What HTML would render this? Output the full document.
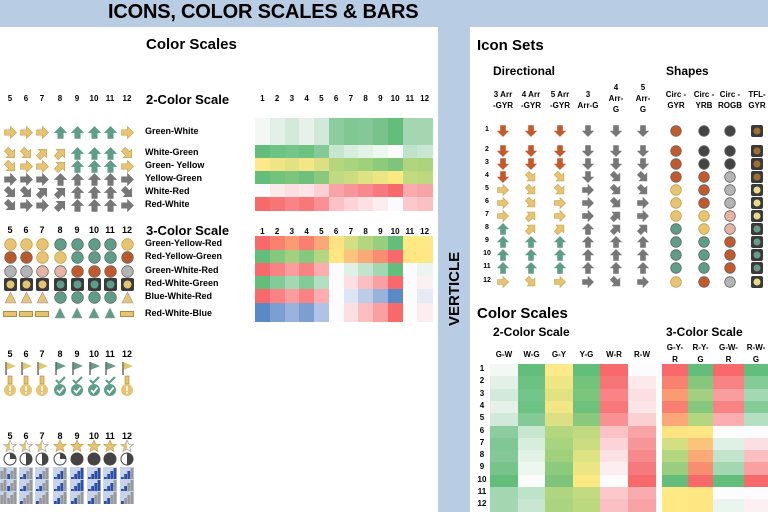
<!DOCTYPE html>
<html><head><meta charset="utf-8">
<style>
body{margin:0;width:768px;height:512px;overflow:hidden;background:#b8cce4;font-family:"Liberation Sans",sans-serif;position:relative}
.p{position:absolute;background:#fff}
.t{position:absolute;font-weight:bold;color:#000;white-space:nowrap}
.c{position:absolute}
svg{position:absolute;overflow:visible}
</style></head><body>
<div class="p" style="left:0;top:27px;width:438px;height:485px"></div>
<div class="p" style="left:470px;top:27px;width:298px;height:485px"></div>
<div class="t" style="left:108px;top:1px;font-size:20px;letter-spacing:-0.2px">ICONS, COLOR SCALES &amp; BARS</div>
<div class="t" style="left:446px;font-size:15px;transform:rotate(-90deg);transform-origin:0 0;top:326px">VERTICLE</div>
<div class="t" style="left:146px;top:36px;font-size:15px">Color Scales</div>
<div class="t" style="left:146px;top:92px;font-size:13px">2-Color Scale</div>
<div class="t" style="left:146px;top:223px;font-size:13px">3-Color Scale</div>
<div class="t" style="left:477px;top:37px;font-size:15px">Icon Sets</div>
<div class="t" style="left:493px;top:64px;font-size:12px">Directional</div>
<div class="t" style="left:666px;top:64px;font-size:12px">Shapes</div>
<div class="t" style="left:477px;top:305px;font-size:15px">Color Scales</div>
<div class="t" style="left:493px;top:325px;font-size:12px">2-Color Scale</div>
<div class="t" style="left:666px;top:325px;font-size:12px">3-Color Scale</div>
<div id="root"></div>
<script>
const R=document.getElementById('root');
function add(h){R.insertAdjacentHTML('beforeend',h);}
function txt(s,x,y,fs,w,al){add(`<div class="t" style="left:${x}px;top:${y}px;font-size:${fs}px;font-weight:${w||'bold'};${al?'transform:translateX(-50%);text-align:center':''}">${s}</div>`);}
function rect(x,y,w,h,c){add(`<div class="c" style="left:${x}px;top:${y}px;width:${w}px;height:${h}px;background:${c}"></div>`);}
const Y='#e6c473',G='#5e9e88',RD='#c45a2c',GR='#777',K='#444',PK='#e6b4a4',GY='#b4b4b4';
const ang={U:0,UR:45,R:90,DR:135,D:180};
function arrow(d,c,x,y,s){s=s||13;add(`<svg style="left:${x-s/2}px;top:${y-s/2}px" width="${s}" height="${s}" viewBox="0 0 12 12"><g transform="rotate(${ang[d]} 6 6)"><path d="M6 0.5L11.5 6H8.5V11.5H3.5V6H0.5Z" fill="${c}" stroke="${c==Y?'#c9a048':c}" stroke-width="0.6"/></g></svg>`);}
function circ(c,x,y,s){s=s||13;add(`<svg style="left:${x-s/2}px;top:${y-s/2}px" width="${s}" height="${s}"><circle cx="${s/2}" cy="${s/2}" r="${s/2-0.7}" fill="${c}" stroke="${c==Y?'#c9a048':'#666'}" stroke-width="0.8"/></svg>`);}
function tfl(c,x,y,s){s=s||13;add(`<svg style="left:${x-s/2}px;top:${y-s/2}px" width="${s}" height="${s}"><rect x="0" y="0" width="${s}" height="${s}" rx="2" fill="#3a3a3a"/><circle cx="${s/2}" cy="${s/2}" r="${s/2-2.5}" fill="${c}"/></svg>`);}
function tri(c,x,y,s){s=s||13;add(`<svg style="left:${x-s/2}px;top:${y-s/2}px" width="${s}" height="${s}"><path d="M${s/2} 1L${s-1} ${s-1}H1Z" fill="${c}" stroke="#999" stroke-width="0.6"/></svg>`);}
function bar(c,x,y){add(`<svg style="left:${x-7}px;top:${y-3}px" width="14" height="6"><rect x="0.5" y="0.5" width="13" height="5" fill="${c}" stroke="#b09040"/></svg>`);}
function flag(c,x,y){add(`<svg style="left:${x-6}px;top:${y-7}px" width="13" height="14"><line x1="2" y1="1" x2="2" y2="14" stroke="#555" stroke-width="1.3"/><path d="M2.5 1L12 5L2.5 9Z" fill="${c}"/></svg>`);}
function medal(ok,x,y){const c=ok?G:Y;add(`<svg style="left:${x-7}px;top:${y-10}px" width="14" height="20">${ok?'<path d="M3 4L6 7L12 1" stroke="'+G+'" stroke-width="2.2" fill="none"/>':'<rect x="5" y="0" width="4" height="8" fill="'+Y+'" stroke="#b08830" stroke-width="0.6"/>'}<circle cx="7" cy="14" r="6" fill="${c}"/>${ok?'<path d="M4 14L6.5 16.5L10.5 11.5" stroke="#fff" stroke-width="1.8" fill="none"/>':'<rect x="6.2" y="10" width="1.6" height="5" fill="#fff"/><rect x="6.2" y="16" width="1.6" height="1.6" fill="#fff"/>'}</svg>`);}
function star(f,x,y){add(`<svg style="left:${x-7}px;top:${y-7}px" width="14" height="14" viewBox="0 0 14 14"><path d="M7 1L8.8 5.2L13.2 5.4L9.8 8.2L11 12.6L7 10.1L3 12.6L4.2 8.2L0.8 5.4L5.2 5.2Z" fill="${f?Y:'#fff'}" stroke="${f?'#c9a048':'#999'}" stroke-width="0.7"/>${f?'':'<path d="M7 1L5.2 5.2L0.8 5.4L4.2 8.2L3 12.6L7 10.1Z" fill="'+Y+'"/>'}</svg>`);}
function pie(q,x,y){let p='';const r=6,cx=7,cy=7;if(q>=4)p=`<circle cx="7" cy="7" r="6" fill="${K}"/>`;else if(q>0){const a=q*Math.PI/2;const ex=cx+r*Math.sin(a),ey=cy-r*Math.cos(a);p=`<path d="M7 7L7 1A6 6 0 ${q>2?1:0} 1 ${ex} ${ey}Z" fill="${K}"/>`;}add(`<svg style="left:${x-7}px;top:${y-7}px" width="14" height="14"><circle cx="7" cy="7" r="6" fill="#fff" stroke="${K}"/>${p}</svg>`);}
function sig(n,x,y){let s='';for(let i=0;i<4;i++){const h=3+i*3;s+=`<rect x="${1+i*3.2}" y="${13-h}" width="2.8" height="${h}" fill="${i<n?'#2e4fa8':'#999'}"/>`;}add(`<svg style="left:${x-7}px;top:${y-6}px" width="14" height="13"><rect width="14" height="13" fill="#c8d4ec"/>${s}</svg>`);}

const LX=[10,26,42,60,77,94,110,127];
[5,6,7,8,9,10,11,12].forEach((n,i)=>{txt(n,LX[i],94,8,'bold',1);txt(n,LX[i],225,9,'bold',1);txt(n,LX[i],349,9,'bold',1);txt(n,LX[i],431,9,'bold',1);});
const arows=[[132,'R R R U U U U R',0],[153,'DR DR UR UR U U U DR',0],[166,'DR R R UR U U U R',0],[179,'R R R U U U U R',1],[192,'DR DR UR UR U U U DR',1],[205,'DR R R UR U U U R',1]];
arows.forEach(([y,s,g])=>s.split(' ').forEach((d,i)=>arrow(d,g?GR:(d=='U'?G:Y),LX[i],y)));
const lab2=['Green-White','White-Green','Green- Yellow','Yellow-Green','White-Red','Red-White'];
[132,153,166,179,192,205].forEach((y,i)=>txt(lab2[i],145,y-6,9));
const lab3=['Green-Yellow-Red','Red-Yellow-Green','Green-White-Red','Red-White-Green','Blue-White-Red','Red-White-Blue'];
[244,257,271,284,297,314].forEach((y,i)=>txt(lab3[i],145,y-6,9));
'Y Y Y G G G G Y'.split(' ').forEach((c,i)=>circ(c=='Y'?Y:G,LX[i],244));
'B B Y Y G G G B'.split(' ').forEach((c,i)=>circ(c=='Y'?Y:c=='G'?G:'#b85a2a',LX[i],257));
'S S P P R R R S'.split(' ').forEach((c,i)=>circ(c=='S'?GY:c=='P'?PK:RD,LX[i],271));
'Y Y Y G G G G Y'.split(' ').forEach((c,i)=>tfl(c=='Y'?Y:G,LX[i],284));
'T T T C C C C T'.split(' ').forEach((c,i)=>c=='T'?tri(Y,LX[i],297):circ(G,LX[i],297));
'B B B T T T T B'.split(' ').forEach((c,i)=>c=='B'?bar(Y,LX[i],314):tri(G,LX[i],313,12));
[0,0,0,1,1,1,1,0].forEach((o,i)=>{flag(o?'#6a9a8a':'#e0c870',LX[i],368);medal(o,LX[i],386);});
[0,0,0,1,1,1,1,0].forEach((o,i)=>star(o,LX[i],446));
[1,2,2,1,4,4,4,2].forEach((q,i)=>pie(q,LX[i],459));
[[2,2,2,3,4,4,4,3],[2,2,2,3,4,4,3,2],[1,1,1,2,2,2,2,1]].forEach((r,j)=>r.forEach((n,i)=>sig(n,LX[i],473+j*12)));
sig(2,0,473);sig(2,0,485);sig(1,0,497);

const C2=[
['#f4f8f5','#e3f0e7','#d3eadb','#e6f2e9','#d2e8d9','#8ccc9e','#80c794','#84c898','#78c28c','#63be7b','#a4d6b2','#a4d6b2'],
['#63be7b','#6cc282','#74c58a','#6cc282','#84ca96','#c7e6cf','#d7eedd','#e2f2e6','#ecf7ef','#fafcfb','#bfe3c8','#c8e6d0'],
['#fde98a','#eee584','#e3e283','#f3e685','#dcdf83','#b3d67f','#a9d47f','#9fd17d','#8ccb7c','#7ec57b','#b0d57f','#acd47f'],
['#63be7b','#74c37c','#7cc57c','#6ec17c','#8ac97d','#bfda80','#ccdd81','#dde282','#ebe583','#fbe984','#c3db80','#bcd980'],
['#fcfcff','#fce9ec','#fcdfe2','#fce4e7','#fad0d3','#f8a4a7','#f79699','#f6898c','#f67a7d','#f8696b','#f9acaf','#f8a4a7'],
['#f8696b','#f87577','#f98386','#f8787a','#f99194','#fbc2c5','#fcd3d6','#fce1e4','#fcedf0','#fcfcff','#fbc8cb','#fbc0c3']];
const C3=[
['#f8696b','#f98170','#fa9b74','#f98070','#fba777','#fee382','#d3df81','#b5d680','#98ce7e','#63be7b','#ffe984','#ffe984'],
['#63be7b','#85c87d','#a2d07f','#85c87d','#b5d680','#fee683','#fcc37b','#fbaa77','#f98d72','#f8696b','#fee683','#fee683'],
['#f8696b','#f98284','#fa9d9f','#f98284','#fbadaf','#fcfcff','#dff0e5','#c2e4cc','#a3d7b2','#63be7b','#fcfcff','#e9f5ee'],
['#63be7b','#83cb97','#a3d8b2','#83cb97','#b5dfc1','#fcfcff','#fcdfe2','#fbbfc1','#fa9fa2','#f8696b','#fcfcff','#fcf0f3'],
['#f8696b','#f98284','#fa9d9f','#f98284','#fbadaf','#fcfcff','#dde4f3','#bccbe7','#9ab1dc','#5a8ac6','#fcfcff','#e5eaf6'],
['#5a8ac6','#7b9fd1','#9ab3dc','#7b9fd1','#b0c3e4','#fcfcff','#fcdfe2','#fbbfc1','#fa9fa2','#f8696b','#fcfcff','#fcedf0']];
const GX0=255,GW=14.75;
for(let i=0;i<12;i++){txt(i+1,GX0+GW*i+GW/2,94,8,'bold',1);txt(i+1,GX0+GW*i+GW/2,227,8,'bold',1);}
const r2=[[118,27],[145,13],[158,13],[171,13],[184,13],[197,14]];
C2.forEach((row,j)=>row.forEach((c,i)=>rect(GX0+GW*i,r2[j][0],GW+0.5,r2[j][1],c)));
const r3=[[236,13.5],[249.5,13.5],[263,13],[276,13],[289,14],[303,19]];
C3.forEach((row,j)=>row.forEach((c,i)=>rect(GX0+GW*i,r3[j][0],GW+0.5,r3[j][1],c)));

const RX=[503,531,560,588,616,643,676,704,730,757];
const hd=[['3 Arr','-GYR'],['4 Arr','-GYR'],['5 Arr','-GYR'],['3','Arr-G'],['4','Arr-','G'],['5','Arr-','G'],['Circ -','GYR'],['Circ -','YRB'],['Circ -','ROGB'],['TFL-','GYR']];
hd.forEach((h,i)=>{const y0=h.length==3?83:90;h.forEach((s,k)=>txt(s,RX[i],y0+k*11,8,'bold',1));});
const RY=[131,151,164,177,190,203,216,229,242,255,268,282];
RY.forEach((y,i)=>txt(i+1,487,y-5,7,'bold',1));
const A3='D D D D R R R U U U U R'.split(' '),A4='D D D DR DR DR UR UR U U U DR'.split(' '),A5='D D D DR DR R R UR U U U R'.split(' ');
const acol=d=>d=='D'?RD:d=='U'?G:Y;
[A3,A4,A5].forEach((a,k)=>a.forEach((d,i)=>arrow(d,acol(d),RX[k],RY[i],12)));
[A3,A4,A5].forEach((a,k)=>a.forEach((d,i)=>arrow(d,GR,RX[k+3],RY[i],12)));
const cm={R:RD,Y:Y,G:G,K:K,S:GY,P:PK};
'R R R R Y Y Y G G G G Y'.split(' ').forEach((c,i)=>circ(cm[c],RX[6],RY[i],12));
'K K K R R R Y Y G G G R'.split(' ').forEach((c,i)=>circ(cm[c],RX[7],RY[i],12));
'K K K S S S P P R R R S'.split(' ').forEach((c,i)=>circ(cm[c],RX[8],RY[i],12));
'R R R R Y Y Y G G G G Y'.split(' ').forEach((c,i)=>tfl(c=='R'?'#a07030':c=='Y'?'#e8dc88':'#6a9a8a',RX[9],RY[i],12));

const CX=[490,518,545,573,600,628,662,688,713,744],CW=[28,27,28,27,28,28,26,25,31,24];
['G-W','W-G','G-Y','Y-G','W-R','R-W'].forEach((s,i)=>txt(s,CX[i]+CW[i]/2,350,8,'bold',1));
[['G-Y-','R'],['R-Y-','G'],['G-W-','R'],['R-W-','G']].forEach((h,i)=>h.forEach((s,k)=>txt(s,CX[i+6]+CW[i+6]/2,343+k*12,8,'bold',1)));
const cols=[C2[0],C2[1],C2[2],C2[3],C2[5],C2[4],C3[0],C3[1],C3[2],C3[3]];
const RH=12.3;
for(let r=0;r<12;r++){txt(r+1,482,364+r*RH,8,'bold',1);cols.forEach((col,i)=>rect(CX[i],364+r*RH,CW[i],RH+0.5,col[r]));}
</script>
</body></html>
